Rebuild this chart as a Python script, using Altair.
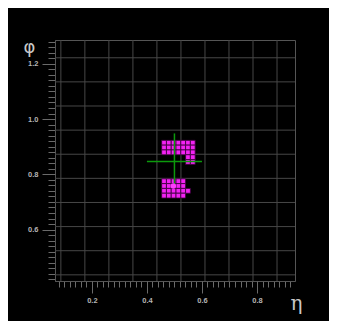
import altair as alt
import pandas as pd

# ---- data ----
# calorimeter cells (eta lower edge from column index, phi upper edge from row index)
cell_eta0 = 0.4535      # eta lower edge of column 0
cell_phi0 = 0.923       # phi upper edge of row 0
cell_size = 0.0174      # cell size in eta and phi
cell_rows = [0, 1, 2, 3, 4, 8, 9, 10, 11]
cell_cols = [
    [0, 1, 2, 3, 4, 5, 6],
    [0, 1, 2, 3, 4, 5, 6],
    [0, 1, 2, 3, 4, 5, 6],
    [5, 6],
    [5, 6],
    [0, 1, 2, 3, 4],
    [0, 1, 2, 3, 4],
    [0, 1, 2, 3, 4, 5],
    [0, 1, 2, 3, 4],
]

# green cross (jet axis)
cross_eta = [0.40, 0.50, 0.60]      # left, centre, right
cross_phi = [0.766, 0.846, 0.948]   # bottom, centre, top

# pink marker
marker_eta = [0.496]
marker_phi = [0.758]

# grid lines at multiples of pi/36
grid_eta = [0.0873, 0.1745, 0.2618, 0.3491, 0.4363, 0.5236, 0.6109, 0.6981, 0.7854, 0.8727]
grid_phi = [0.4363, 0.5236, 0.6109, 0.6981, 0.7854, 0.8727, 0.9599, 1.0472, 1.1345, 1.2217]

# axis ticks: minor every 0.02, labelled every 0.2
x_minor = [round(0.08 + 0.02 * i, 2) for i in range(43)]
y_minor = [round(0.42 + 0.02 * i, 2) for i in range(44)]
x_major = [0.2, 0.4, 0.6, 0.8]
y_major = [0.6, 0.8, 1.0, 1.2]

x_domain = [0.066, 0.938]
y_domain = [0.414, 1.286]

# ---- tables ----
rows = []
for r, cols in zip(cell_rows, cell_cols):
    for c in cols:
        e = cell_eta0 + c * cell_size
        p = cell_phi0 - r * cell_size
        rows.append({"eta": e, "eta2": e + cell_size, "phi": p, "phi2": p - cell_size})
cells = pd.DataFrame(rows)

cross = pd.DataFrame([
    {"eta": cross_eta[0], "eta2": cross_eta[2], "phi": cross_phi[1], "phi2": cross_phi[1]},
    {"eta": cross_eta[1], "eta2": cross_eta[1], "phi": cross_phi[0], "phi2": cross_phi[2]},
])
marker = pd.DataFrame({"eta": marker_eta, "phi": marker_phi})
gx = pd.DataFrame({"eta": grid_eta})
gy = pd.DataFrame({"phi": grid_phi})

xs = alt.Scale(domain=x_domain, nice=False, zero=False)
ys = alt.Scale(domain=y_domain, nice=False, zero=False)

x_minor_axis = alt.Axis(values=x_minor, tickSize=6, labels=False, title=None,
                        grid=False, orient="bottom")
y_minor_axis = alt.Axis(values=y_minor, tickSize=7, labels=False, title=None,
                        grid=False, orient="left")

x_major_axis = alt.Axis(
    values=x_major, format=".1f", tickSize=12, labelPadding=3,
    labelOverlap=False, orient="bottom", grid=False, domain=False,
    title="η", titleAngle=0, titleX=241, titleY=28, titleAlign="center",
    titleBaseline="alphabetic", titleFontSize=20, titleFont="DejaVu Serif",
    titleFontWeight="normal", titleColor="#c8c8c8",
)
y_major_axis = alt.Axis(
    values=y_major, format=".1f", tickSize=13, labelPadding=4,
    labelOverlap=False, orient="left", grid=False, domain=False,
    title="φ", titleAngle=0, titleX=-26, titleY=7, titleAlign="center",
    titleBaseline="middle", titleFontSize=18, titleFont="DejaVu Sans",
    titleFontWeight="normal", titleColor="#c8c8c8",
)

grid_v = alt.Chart(gx).mark_rule(color="#474747", strokeWidth=1).encode(
    x=alt.X("eta:Q", scale=xs, axis=x_minor_axis)
)
grid_h = alt.Chart(gy).mark_rule(color="#474747", strokeWidth=1).encode(
    y=alt.Y("phi:Q", scale=ys, axis=y_minor_axis)
)

cell_layer = alt.Chart(cells).mark_rect(
    color="#f222f2", stroke="#3a003a", strokeWidth=0.8
).encode(
    x=alt.X("eta:Q", scale=xs, axis=x_major_axis),
    x2="eta2",
    y=alt.Y("phi:Q", scale=ys, axis=y_major_axis),
    y2="phi2",
)

cross_layer = alt.Chart(cross).mark_rule(color="#0c9a0c", strokeWidth=1.5).encode(
    x=alt.X("eta:Q", scale=xs, axis=None),
    x2="eta2",
    y=alt.Y("phi:Q", scale=ys, axis=None),
    y2="phi2",
)

marker_layer = alt.Chart(marker).mark_point(
    shape="circle", filled=True, size=30, color="#ff3cff", opacity=1
).encode(
    x=alt.X("eta:Q", scale=xs, axis=None),
    y=alt.Y("phi:Q", scale=ys, axis=None),
)

chart = alt.layer(grid_v, grid_h, cell_layer, cross_layer, marker_layer).resolve_axis(
    x="independent", y="independent"
).properties(
    width=240,
    height=241,
    background="#000000",
    autosize=alt.AutoSizeParams(type="none"),
    padding={"left": 47, "top": 32, "right": 34, "bottom": 40},
).configure_view(
    stroke="#555555", strokeWidth=1
).configure_axis(
    domainColor="#555555",
    tickColor="#6a6a6a",
    labelColor="#b4b4b4",
    labelFont="Liberation Sans",
    labelFontWeight="bold",
    labelFontSize=7.5,
)

chart.save("out.html", embed_options={"renderer": "svg", "actions": False})
